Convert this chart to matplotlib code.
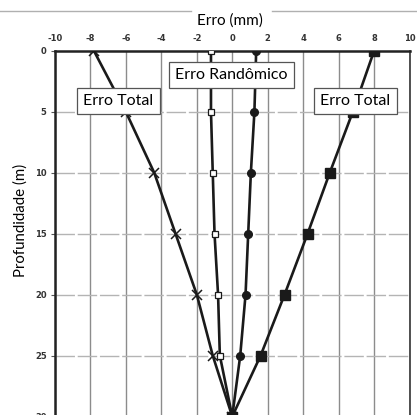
import matplotlib
matplotlib.use("Agg")
import matplotlib.pyplot as plt
from matplotlib.lines import Line2D

depth = [0, 5, 10, 15, 20, 25, 30]
erro_total_neg = [-7.8, -6.0, -4.4, -3.2, -2.0, -1.1, 0.0]
erro_rand_neg = [-1.2, -1.2, -1.1, -1.0, -0.8, -0.7, 0.0]
erro_rand_pos = [1.35, 1.25, 1.05, 0.9, 0.75, 0.45, 0.0]
erro_total_pos = [8.0, 6.8, 5.5, 4.25, 2.95, 1.6, 0.0]
xticks = [-10, -8, -6, -4, -2, 0, 2, 4, 6, 8, 10]
yticks = [0, 5, 10, 15, 20, 25, 30]

W, H = 417, 415
fig = plt.figure(figsize=(W / 100, H / 100), dpi=100)
fig.patch.set_facecolor("white")

left_px, right_px, top_px, bot_px = 55, 409.5, 51, 416.5
ax = fig.add_axes([left_px / W, 1 - bot_px / H, (right_px - left_px) / W, (bot_px - top_px) / H])
ax.set_xlim(-10, 10)
ax.set_ylim(30, 0)

# grid
for xv in xticks:
    ax.axvline(xv, color="#8c8c8c", lw=1.0, zorder=1)
for yv in yticks[1:]:
    ax.axhline(yv, color="#b4b4b4", lw=1.0, ls=(0, (14, 2)), zorder=1)

lc = "#1a1a1a"
ax.plot(erro_total_neg, depth, color=lc, lw=1.9, marker="x", ms=6.5, mew=1.1, zorder=3)
ax.plot(erro_rand_neg, depth, color=lc, lw=1.9, marker="s", ms=4, mfc="white", mec=lc, mew=0.9, zorder=3)
ax.plot(erro_rand_pos, depth, color=lc, lw=1.9, marker="o", ms=5.5, zorder=3)
ax.plot(erro_total_pos, depth, color=lc, lw=1.9, marker="s", ms=6.5, zorder=3)

ax.xaxis.tick_top()
ax.set_xticks(xticks)
ax.set_yticks(yticks)
ax.set_xticklabels([str(v) for v in xticks], fontsize=6, fontweight="bold", color="#333333",
                   family="DejaVu Sans")
ax.set_yticklabels([str(v) for v in yticks], fontsize=6, fontweight="bold", color="#333333",
                   family="DejaVu Sans")
ax.tick_params(axis="x", length=0, pad=6)
ax.tick_params(axis="y", length=3, width=0.8, color="#555555", pad=3)

for s in ["left", "top"]:
    ax.spines[s].set_linewidth(1.8)
    ax.spines[s].set_color("#222222")
ax.spines["right"].set_linewidth(1.2)
ax.spines["right"].set_color("#333333")
ax.spines["bottom"].set_visible(False)

box = dict(boxstyle="square,pad=0.38", fc="white", ec="#555555", lw=0.9)
fnt = "Lato"
fs = 11.5
ax.text(-6.42, 4.1, "Erro Total", fontsize=fs, family=fnt, ha="center", va="center", bbox=box, zorder=5)
ax.text(-0.03, 1.97, "Erro Randômico", fontsize=fs, family=fnt, ha="center", va="center", bbox=box, zorder=5)
ax.text(6.95, 4.1, "Erro Total", fontsize=fs, family=fnt, ha="center", va="center", bbox=box, zorder=5)

fig.text(230 / W, 1 - 21 / H, "Erro (mm)", fontsize=11, family=fnt, ha="center", va="center")
fig.text(21 / W, 1 - 220 / H, "Profundidade (m)", fontsize=10.8, family=fnt, ha="center", va="center",
         rotation=90)

fig.add_artist(Line2D([0, 191 / W], [1 - 11 / H, 1 - 11 / H], color="#b0b0b0", lw=1.0))
fig.add_artist(Line2D([272 / W, 1], [1 - 11 / H, 1 - 11 / H], color="#b0b0b0", lw=1.0))

fig.savefig("out.png", dpi=100, facecolor="white")
